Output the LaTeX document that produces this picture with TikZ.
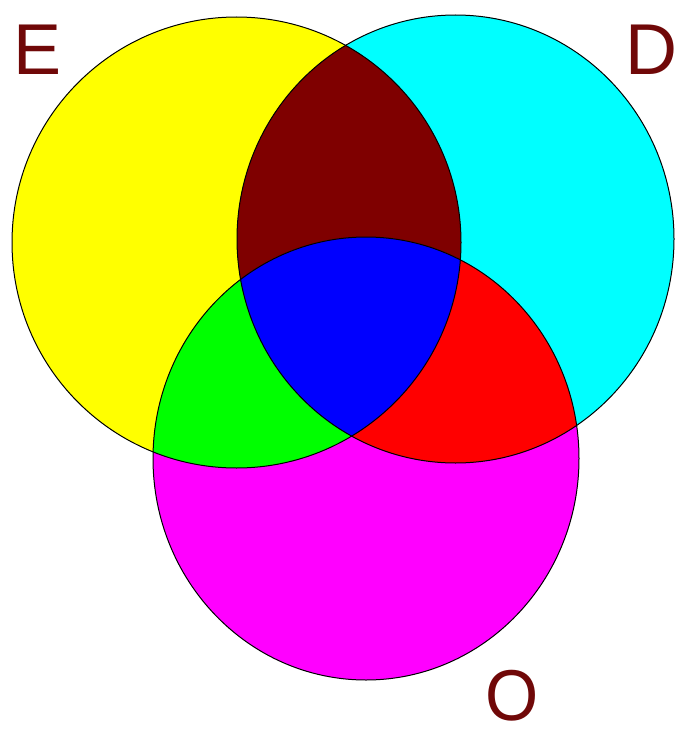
\documentclass[tikz,border=0pt]{standalone}
\usepackage{fontspec}
\setmainfont{Liberation Sans}
\definecolor{cE}{HTML}{FFFF00}
\definecolor{cD}{HTML}{00FFFF}
\definecolor{cO}{HTML}{FF00FF}
\definecolor{cED}{HTML}{7F0000}
\definecolor{cEO}{HTML}{00FF00}
\definecolor{cDO}{HTML}{FF0000}
\definecolor{cEDO}{HTML}{0000FF}
\definecolor{lbl}{HTML}{700808}
\tikzset{
  outline/.style={draw=black, line width=1pt},
  setlabel/.style={text=lbl, font=\fontsize{72}{72}\selectfont, inner sep=0pt, anchor=base west},
}
\newcommand{\shE}{(236.5,242.5) ellipse [x radius=224.5, y radius=225.5]}
\newcommand{\shD}{(455.5,239) ellipse [x radius=218.5, y radius=224]}
\newcommand{\shO}{(366,458.5) ellipse [x radius=213, y radius=221.5]}
\begin{document}
\begin{tikzpicture}[x=1pt,y=-1pt]
\useasboundingbox[fill=white] (0,0) rectangle (678,733);
\fill[cE] \shE;
\fill[cD] \shD;
\fill[cO] \shO;
\begin{scope}
  \clip \shE;
  \fill[cED] \shD;
  \fill[cEO] \shO;
\end{scope}
\begin{scope}
  \clip \shD;
  \fill[cDO] \shO;
\end{scope}
\begin{scope}
  \clip \shE;
  \clip \shD;
  \fill[cEDO] \shO;
\end{scope}
\draw[outline] \shE;
\draw[outline] \shD;
\draw[outline] \shO;
\node[setlabel] (lE) at (13,75) {E};
\node[setlabel] (lD) at (625,75) {D};
\node[setlabel,xscale=0.95] (lO) at (485,720) {O};
\end{tikzpicture}
\end{document}
